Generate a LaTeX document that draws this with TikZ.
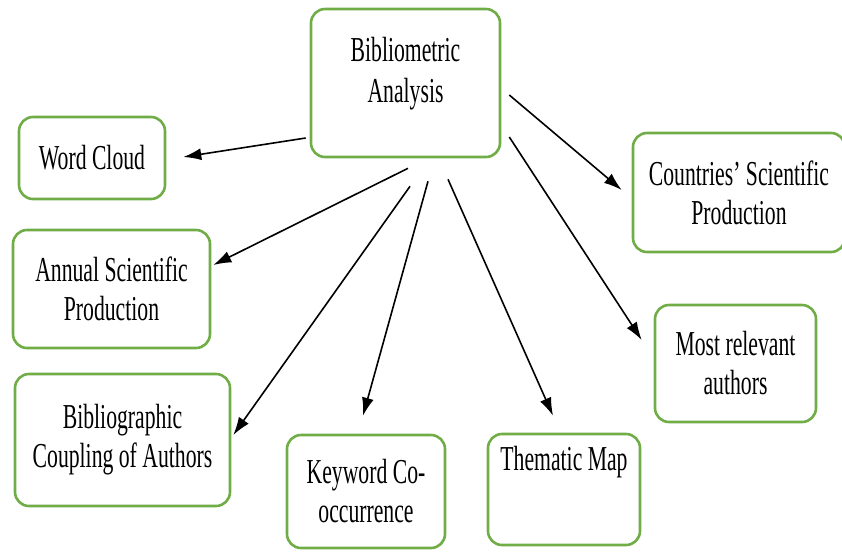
\documentclass[tikz,border=0pt]{standalone}
\usepackage{fontspec}
\setmainfont[FakeStretch=0.62]{Liberation Serif}
\usetikzlibrary{arrows.meta}
\definecolor{boxgreen}{RGB}{112,173,71}
\begin{document}
\begin{tikzpicture}[
    x=0.5pt, y=-0.5pt,
    box/.style={rectangle, draw=boxgreen, line width=1.3pt, rounded corners=7pt, fill=white, align=center, inner sep=0pt, font=\fontsize{17.5}{19.5}\selectfont},
    arr/.style={draw=black, line width=0.8pt, -{Latex[length=9pt, width=6pt]}},
]
    \useasboundingbox (0,0) rectangle (842,554);

    % Centre
    \node[box, minimum width=94.5pt, minimum height=74pt] (bib) at (405.5, 83) {\raisebox{0pt}[0pt][0pt]{\begin{tabular}{@{}c@{}}Bibliometric\\[1pt]Analysis\end{tabular}}};

    % Left side
    \node[box, minimum width=73pt, minimum height=41pt] (word) at (92, 158) {Word Cloud};
    \node[box, minimum width=98.5pt, minimum height=59pt] (annual) at (111.5, 289) {Annual Scientific\\Production};
    \node[box, minimum width=107.5pt, minimum height=66pt] (coupling) at (122.5, 440) {Bibliographic\\Coupling of Authors};

    % Bottom
    \node[box, minimum width=79pt, minimum height=56.5pt] (keyword) at (366, 491.5) {Keyword Co-\\occurrence};
    \node[box, minimum width=76pt, minimum height=55.5pt] (thematic) at (564, 489.5) {\raisebox{9.75pt}[0pt][0pt]{Thematic Map}};

    % Right side
    \node[box, minimum width=106pt, minimum height=59.5pt] (countries) at (739, 192.5) {Countries' Scientific\\Production};
    \node[box, minimum width=80.5pt, minimum height=58.5pt] (relevant) at (735.5, 363.5) {Most relevant\\authors};

    % Arrows
    \draw[arr] ([shift={(-4,55)}]bib.west) -- ([shift={(17,-1)}]word.east);
    \draw[arr] ([shift={(2.5,10)}]bib.south) -- ([shift={(2,-24)}]annual.east);
    \draw[arr] ([shift={(4.5,28)}]bib.south) -- ([shift={(2,-5)}]coupling.east);
    \draw[arr] ([shift={(22.5,23)}]bib.south) -- ([shift={(-3,-18)}]keyword.north);
    \draw[arr] ([shift={(42.5,21)}]bib.south) -- ([shift={(-11,-17)}]thematic.north);
    \draw[arr] ([shift={(8,12)}]bib.east) -- ([shift={(-10,-2.5)}]countries.west);
    \draw[arr] ([shift={(8,54)}]bib.east) -- ([shift={(-12,-23.5)}]relevant.west);
\end{tikzpicture}
\end{document}
